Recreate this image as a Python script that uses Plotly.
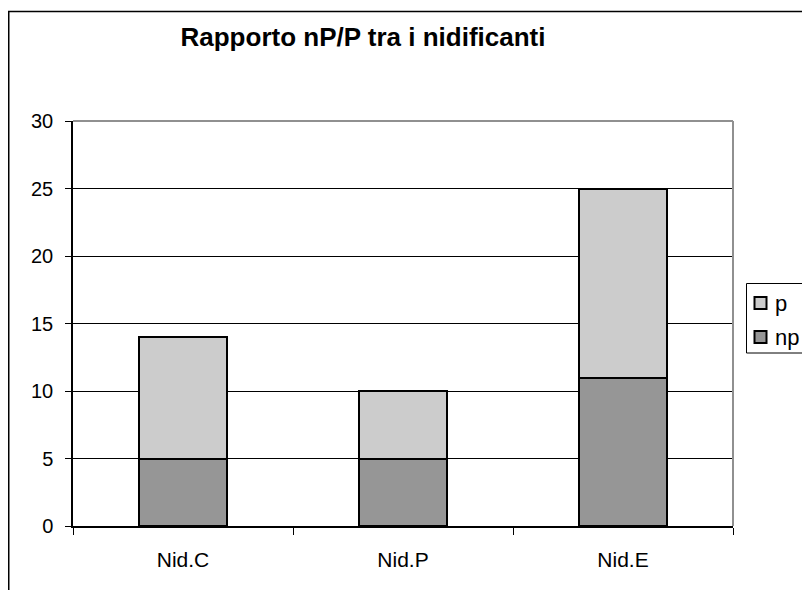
import plotly.graph_objects as go

categories = ["Nid.C", "Nid.P", "Nid.E"]
np_values = [5, 5, 11]
p_values = [9, 5, 14]
y_ticks = [0, 5, 10, 15, 20, 25, 30]
legend_names = ["p", "np"]
legend_colors = ["#CCCCCC", "#969696"]

W, H = 802, 590
# plot area in page pixels
L, R, T, B = 73, 733, 121, 526


def px(x):
    return (x - L) / (R - L)


def py(y):
    return (B - y) / (B - T)


FONT = "Liberation Sans, Arial, sans-serif"

fig = go.Figure()
fig.add_trace(go.Bar(x=categories, y=np_values, name="np", width=0.4,
                     marker=dict(color="#969696", line=dict(color="black", width=2))))
fig.add_trace(go.Bar(x=categories, y=p_values, name="p", width=0.4,
                     marker=dict(color="#CCCCCC", line=dict(color="black", width=2))))

shapes = [
    dict(type="line", xref="paper", yref="paper", x0=0, x1=1, y0=1, y1=1,
         line=dict(color="#909090", width=2), layer="above"),
    dict(type="line", xref="paper", yref="paper", x0=1, x1=1, y0=0, y1=1,
         line=dict(color="#909090", width=2), layer="above"),
    # outer chart frame
    dict(type="rect", xref="paper", yref="paper",
         x0=px(8.75), x1=px(840), y0=py(640), y1=py(11.5),
         line=dict(color="black", width=1.5), layer="below"),
    # legend box
    dict(type="rect", xref="paper", yref="paper",
         x0=px(746.5), x1=px(840), y0=py(353), y1=py(283.5),
         fillcolor="white", line=dict(color="black", width=1), layer="above"),
]
annotations = []
legend_rows_y = [303, 337]
for name, color, yc in zip(legend_names, legend_colors, legend_rows_y):
    shapes.append(dict(type="rect", xref="paper", yref="paper",
                       x0=px(754.5), x1=px(766.5), y0=py(yc + 6), y1=py(yc - 6),
                       fillcolor=color, line=dict(color="black", width=2),
                       layer="above"))
    annotations.append(dict(text=name, xref="paper", yref="paper",
                            x=px(773), y=py(yc), xanchor="left", yanchor="middle",
                            showarrow=False,
                            font=dict(size=22, family=FONT, color="black")))

fig.update_layout(
    width=W, height=H,
    barmode="stack",
    showlegend=False,
    hovermode=False,
    plot_bgcolor="white", paper_bgcolor="white",
    margin=dict(l=L, r=W - R, t=T, b=H - B, autoexpand=False),
    font=dict(family=FONT, color="black", size=20),
    title=dict(text="<b>Rapporto nP/P tra i nidificanti</b>",
               font=dict(size=26, family=FONT, color="black"),
               xref="paper", x=px(363), xanchor="center",
               yref="container", y=1 - 37 / H, yanchor="middle"),
    xaxis=dict(showline=True, linecolor="black", linewidth=1.5,
               ticks="outside", tickson="boundaries", ticklen=7,
               tickcolor="black", tickfont=dict(size=21),
               ticklabelstandoff=14),
    yaxis=dict(range=[0, 30], tickvals=y_ticks, showline=True,
               linecolor="black", linewidth=1.5, ticks="outside",
               ticklen=6, tickcolor="black", showgrid=True,
               gridcolor="black", gridwidth=1, zeroline=False,
               tickfont=dict(size=20), ticklabelstandoff=8),
    shapes=shapes,
    annotations=annotations,
)

fig.write_html(
    "out.html",
    config={"displayModeBar": False},
    post_script=(
        "document.body.style.margin='0';"
        "document.body.style.overflow='hidden';"
        "document.documentElement.style.overflow='hidden';"
    ),
)
